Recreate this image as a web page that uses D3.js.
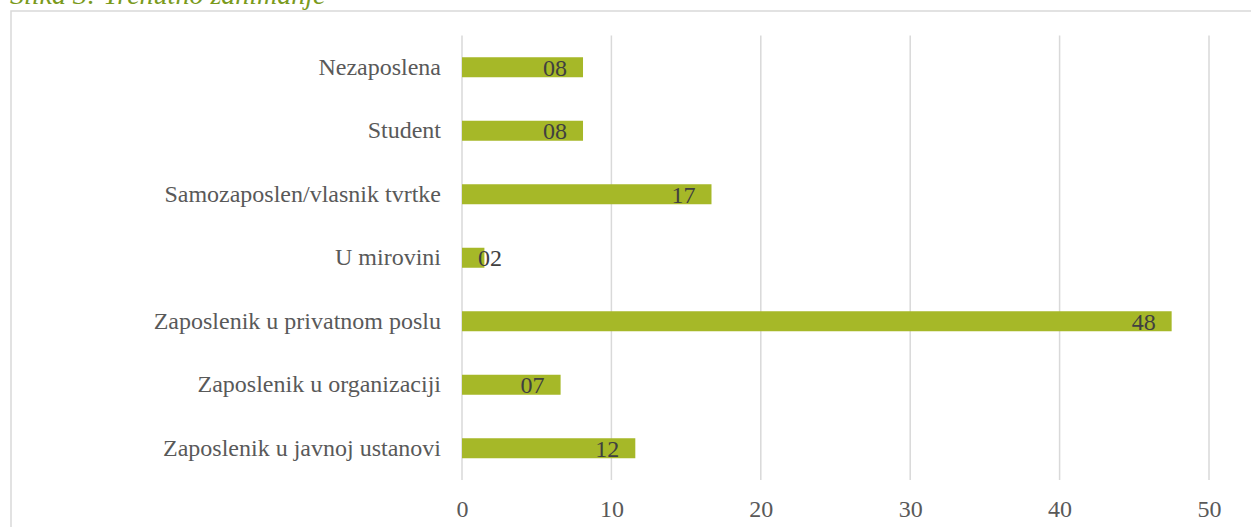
<!DOCTYPE html>
<html>
<head>
<meta charset="utf-8">
<script src="https://cdn.jsdelivr.net/npm/d3@7"></script>
<style>
  body { margin: 0; background: #fff; }
  svg { display: block; }
</style>
</head>
<body>
<svg id="chart" width="1251" height="527"></svg>
<script>
// Chart data (percentages)
var categories = [
    "Nezaposlena",
    "Student",
    "Samozaposlen/vlasnik tvrtke",
    "U mirovini",
    "Zaposlenik u privatnom poslu",
    "Zaposlenik u organizaciji",
    "Zaposlenik u javnoj ustanovi"
];
var values = [8.1, 8.1, 16.7, 1.5, 47.5, 6.6, 11.6];
var xTicks = [0, 10, 20, 30, 40, 50];
var caption = "Slika 3: Trenutno zanimanje";

var barColor = "#a6b828";
var gridColor = "#d9d9d9";
var fontFamily = "'Liberation Serif', 'Times New Roman', serif";

var svg = d3.select("#chart");

// caption, mostly cut off by the top edge
svg.append("text")
    .attr("x", 10)
    .attr("y", 4)
    .attr("font-family", fontFamily)
    .attr("font-style", "italic")
    .attr("font-size", "28px")
    .attr("fill", "#7a9a1c")
    .text(caption);

// chart frame
svg.append("path")
    .attr("d", "M 11,527 L 11,11 L 1251,11")
    .attr("fill", "none")
    .attr("stroke", gridColor)
    .attr("stroke-width", 1.5);

var x = d3.scaleLinear().domain([0, 50]).range([462, 1209]);
var y = d3.scaleBand()
    .domain(categories)
    .range([35.5, 480])
    .paddingInner(0.685)
    .paddingOuter(0.3425);

// vertical gridlines
svg.selectAll(".grid")
    .data(xTicks)
    .enter()
    .append("line")
    .attr("class", "grid")
    .attr("x1", d => x(d))
    .attr("x2", d => x(d))
    .attr("y1", 35.5)
    .attr("y2", 480)
    .attr("stroke", gridColor)
    .attr("stroke-width", 1.5);

// x axis labels
var xAxis = d3.axisBottom(x).tickValues(xTicks).tickSize(0).tickPadding(0);
var gx = svg.append("g")
    .attr("transform", "translate(0,517)")
    .call(xAxis);
gx.select(".domain").remove();
gx.selectAll("text")
    .attr("dy", 0)
    .attr("font-family", fontFamily)
    .attr("font-size", "24px")
    .attr("fill", "#595959");

// category labels
var yAxis = d3.axisLeft(y).tickSize(0).tickPadding(0);
var gy = svg.append("g")
    .attr("transform", "translate(441,0)")
    .call(yAxis);
gy.select(".domain").remove();
gy.selectAll("text")
    .attr("font-family", fontFamily)
    .attr("font-size", "24px")
    .attr("fill", "#595959");

var rows = categories.map(function (c, i) { return { name: c, value: values[i] }; });

// bars
svg.selectAll(".bar")
    .data(rows)
    .enter()
    .append("rect")
    .attr("class", "bar")
    .attr("x", x(0))
    .attr("y", d => y(d.name))
    .attr("width", d => x(d.value) - x(0))
    .attr("height", y.bandwidth())
    .attr("fill", barColor);

// value labels (inside end)
var fmt = d3.format("02d");
svg.selectAll(".label")
    .data(rows)
    .enter()
    .append("text")
    .attr("class", "label")
    .attr("y", d => y(d.name) + y.bandwidth() / 2)
    .attr("dy", "0.35em")
    .attr("text-anchor", "end")
    .attr("font-family", fontFamily)
    .attr("font-size", "24px")
    .attr("fill", "#404040")
    .text(d => fmt(Math.round(d.value)))
    .attr("x", function (d) {
        var w = this.getComputedTextLength();
        return Math.max(x(d.value) - 16, x(0) + 16 + w);
    });
</script>
</body>
</html>
